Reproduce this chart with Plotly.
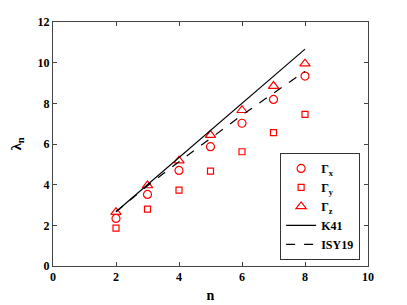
import plotly.graph_objects as go

n = [2, 3, 4, 5, 6, 7, 8]
gamma_x = [2.34, 3.52, 4.70, 5.87, 7.02, 8.19, 9.34]
gamma_y = [1.86, 2.80, 3.73, 4.67, 5.62, 6.56, 7.46]
gamma_z = [2.65, 3.96, 5.18, 6.44, 7.66, 8.85, 9.95]
k41 = [2.667, 4.0, 5.333, 6.667, 8.0, 9.333, 10.667]
isy19 = [2.67, 3.95, 5.13, 6.28, 7.42, 8.50, 9.57]

red = "#ff0000"
font = "Liberation Serif"

fig = go.Figure()
fig.add_trace(go.Scatter(x=n, y=gamma_x, mode="markers", name="<b>Γ<sub>x</sub></b>",
                         marker=dict(symbol="circle-open", size=8, color=red, line=dict(width=1.2))))
fig.add_trace(go.Scatter(x=n, y=gamma_y, mode="markers", name="<b>Γ<sub>y</sub></b>",
                         marker=dict(symbol="square-open", size=6, color=red, line=dict(width=1.2))))
fig.add_trace(go.Scatter(x=n, y=gamma_z, mode="markers", name="<b>Γ<sub>z</sub></b>",
                         marker=dict(symbol="triangle-up-open", size=9, color=red, line=dict(width=1.2))))
fig.add_trace(go.Scatter(x=n, y=k41, mode="lines", name="<b>K41</b>",
                         line=dict(color="black", width=1.2)))
fig.add_trace(go.Scatter(x=n, y=isy19, mode="lines", name="<b>ISY19</b>",
                         line=dict(color="black", width=1.2, dash="dash")))

axis_common = dict(
    showline=True, linecolor="#444444", linewidth=1, mirror="ticks",
    ticks="inside", ticklen=4, tickcolor="#444444", showgrid=False, zeroline=False,
    tickfont=dict(family=font, size=12, color="black", weight="bold"),
    automargin=False,
)
fig.update_xaxes(range=[0, 10], tickvals=[0, 2, 4, 6, 8, 10],
                 title=dict(text="<b>n</b>", font=dict(family=font, size=14, color="black"), standoff=6),
                 **axis_common)
fig.update_yaxes(range=[0, 12], tickvals=[0, 2, 4, 6, 8, 10, 12],
                 title=dict(text="<b>λ<sub>n</sub></b>", font=dict(family=font, size=15, color="black"), standoff=14),
                 **axis_common)
fig.update_layout(
    width=399, height=297,
    margin=dict(l=45, r=39, t=14, b=39, autoexpand=False),
    paper_bgcolor="white", plot_bgcolor="white",
    font=dict(family=font, color="black"),
    legend=dict(x=0.975, y=0.025, xanchor="right", yanchor="bottom",
                bordercolor="#333333", borderwidth=1, bgcolor="white",
                font=dict(family=font, size=12, color="black"),
                tracegroupgap=0, itemwidth=30),
    showlegend=True,
)
fig.write_html("out.html")
